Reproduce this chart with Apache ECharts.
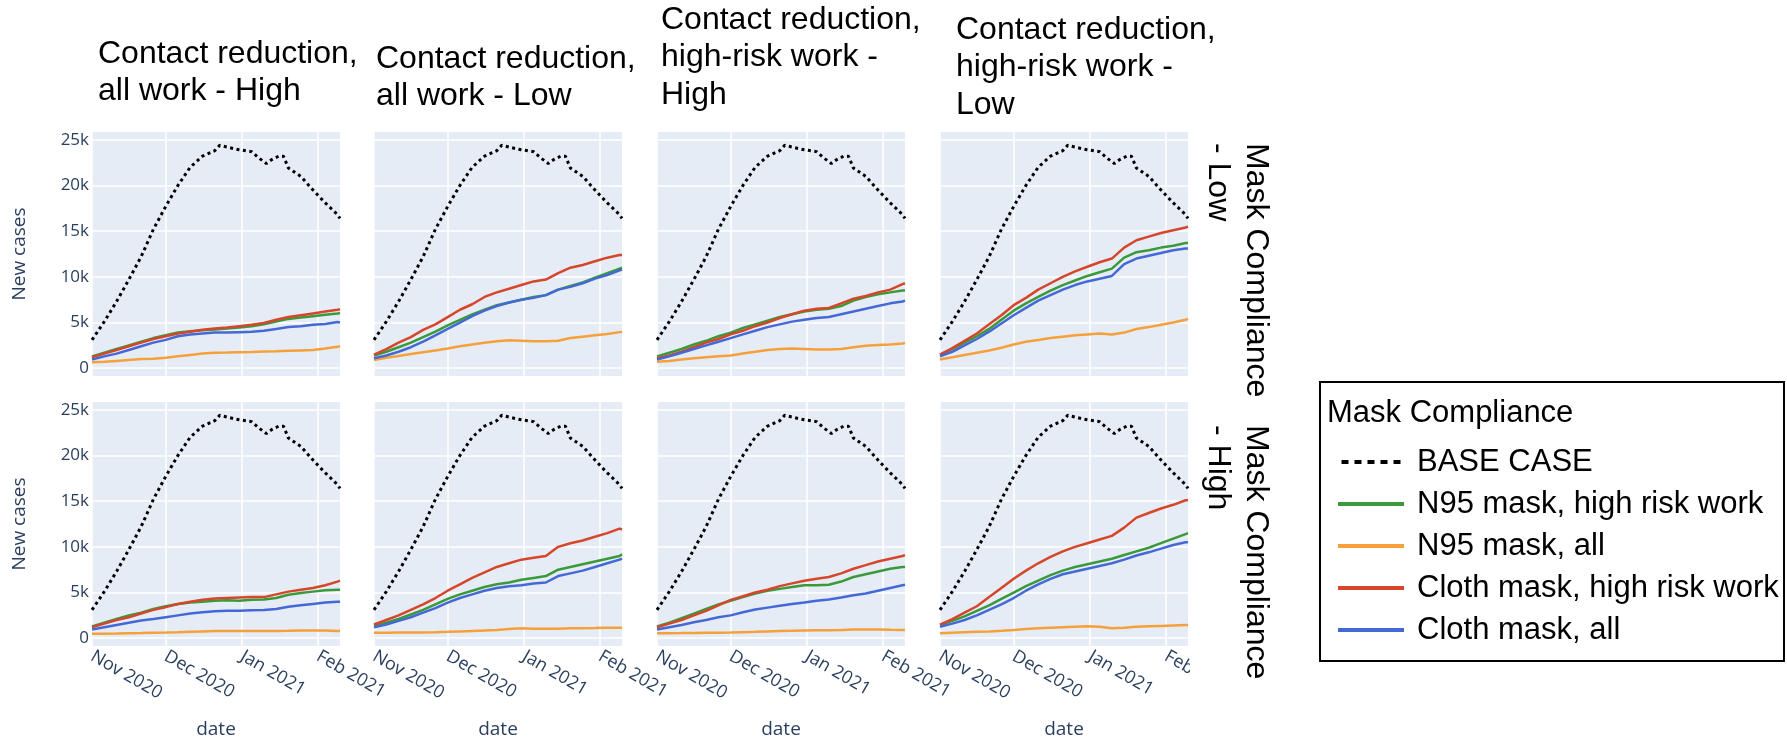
<!DOCTYPE html>
<html><head><meta charset="utf-8">
<script src="https://cdn.jsdelivr.net/npm/echarts@6/dist/echarts.min.js"></script>
<style>html,body{margin:0;padding:0;background:#fff}#c{width:1787px;height:746px}</style>
</head><body><div id="c"></div>
<script>
// ---------- DATA ----------
const dates = ['2020-11-01','2020-11-06','2020-11-11','2020-11-16','2020-11-21','2020-11-26','2020-12-01','2020-12-06','2020-12-11','2020-12-16','2020-12-21','2020-12-26','2020-12-31','2021-01-05','2021-01-10','2021-01-15','2021-01-20','2021-01-25','2021-01-30','2021-02-04','2021-02-09','2021-02-10'];
const baseDates = ['2020-11-01','2020-11-06','2020-11-11','2020-11-16','2020-11-21','2020-11-26','2020-12-01','2020-12-06','2020-12-11','2020-12-16','2020-12-21','2020-12-23','2020-12-26','2020-12-31','2021-01-05','2021-01-08','2021-01-11','2021-01-13','2021-01-16','2021-01-18','2021-01-20','2021-01-25','2021-01-30','2021-02-04','2021-02-09','2021-02-10'];
const baseCase = [3100,5100,7300,9700,12200,15200,17700,20000,22000,23200,23800,24400,24200,23900,23700,23000,22400,22800,23200,23200,21900,21000,19500,18100,16800,16400];

const colTitles = ['Contact reduction,\nall work - High','Contact reduction,\nall work - Low','Contact reduction,\nhigh-risk work -\nHigh','Contact reduction,\nhigh-risk work -\nLow'];
const rowTitles = ['Mask Compliance\n- Low','Mask Compliance\n- High'];
const seriesNames = ['BASE CASE','N95 mask, high risk work','N95 mask, all','Cloth mask, high risk work','Cloth mask, all'];
const yTicks = [0,5000,10000,15000,20000,25000];
const xTicks = ['2020-11-01','2020-12-01','2021-01-01','2021-02-01'];
const xRange = ['2020-11-01','2021-02-10'];
const monthNames = ['Jan','Feb','Mar','Apr','May','Jun','Jul','Aug','Sep','Oct','Nov','Dec'];
const yTitle = 'New cases';
const xTitle = 'date';
const legendTitle = 'Mask Compliance';

// Row 1 (Mask Compliance - Low)
const p11_n95Work   = [1300,1700,2100,2500,2900,3300,3600,3900,4050,4150,4250,4350,4450,4600,4800,5100,5400,5550,5700,5850,6000,6050];
const p11_n95All    = [650,700,800,900,1000,1050,1150,1300,1450,1600,1700,1720,1750,1780,1820,1850,1900,1950,2000,2150,2350,2400];
const p11_clothWork = [1200,1600,2000,2400,2800,3200,3500,3800,4000,4200,4350,4450,4600,4750,4950,5300,5600,5800,6000,6200,6400,6450];
const p11_clothAll  = [950,1300,1600,2000,2400,2800,3100,3500,3700,3800,3900,3900,3950,4000,4100,4300,4500,4600,4750,4850,5050,5000];

const p12_n95Work   = [1400,1800,2300,2800,3400,4000,4700,5300,5900,6400,6900,7200,7500,7800,8000,8600,9000,9400,9900,10400,10900,11000];
const p12_n95All    = [900,1150,1350,1550,1750,1950,2150,2400,2600,2800,2950,3050,3000,2950,2950,3000,3300,3450,3600,3750,3950,4000];
const p12_clothWork = [1500,2100,2800,3400,4200,4800,5600,6400,7000,7800,8300,8700,9100,9500,9700,10400,11000,11300,11700,12100,12400,12400];
const p12_clothAll  = [1100,1400,1800,2300,2900,3600,4300,5000,5700,6300,6800,7200,7500,7700,8000,8600,8900,9300,9800,10200,10700,10800];

const p13_n95Work   = [1300,1700,2100,2600,3000,3500,3900,4400,4800,5200,5600,5900,6200,6400,6500,6800,7400,7800,8100,8300,8500,8500];
const p13_n95All    = [700,800,950,1100,1200,1300,1400,1600,1800,2000,2100,2150,2100,2050,2050,2100,2300,2450,2550,2600,2700,2750];
const p13_clothWork = [1100,1400,1800,2300,2800,3200,3700,4100,4600,5000,5500,5900,6300,6500,6600,7100,7600,7900,8300,8600,9200,9300];
const p13_clothAll  = [950,1300,1700,2100,2500,2900,3300,3700,4100,4500,4800,5100,5300,5500,5600,5900,6200,6500,6800,7100,7300,7400];

const p14_n95Work   = [1500,2100,2800,3500,4300,5300,6300,7100,7800,8500,9100,9600,10100,10500,10900,12100,12700,12900,13200,13400,13700,13700];
const p14_n95All    = [950,1200,1450,1700,1950,2250,2600,2900,3100,3300,3450,3600,3700,3800,3700,3900,4300,4500,4750,5000,5300,5400];
const p14_clothWork = [1500,2200,3000,3800,4800,5800,6900,7700,8600,9300,10000,10600,11100,11600,12000,13200,14000,14400,14800,15100,15400,15500];
const p14_clothAll  = [1300,1800,2500,3200,4000,4900,5800,6600,7400,8000,8600,9100,9500,9800,10100,11400,12000,12300,12600,12900,13100,13100];

// Row 2 (Mask Compliance - High)
const p21_n95Work   = [1300,1700,2100,2500,2800,3200,3500,3750,3900,4000,4100,4150,4100,4200,4250,4400,4750,4950,5100,5250,5300,5300];
const p21_n95All    = [500,500,520,550,570,600,620,650,700,750,800,800,780,800,800,800,820,850,850,850,800,800];
const p21_clothWork = [1200,1600,2000,2300,2700,3100,3400,3750,4000,4200,4350,4400,4450,4500,4500,4800,5100,5300,5500,5800,6200,6300];
const p21_clothAll  = [950,1200,1450,1700,1950,2100,2300,2500,2700,2850,2950,3000,3000,3050,3100,3200,3450,3600,3750,3900,4000,4000];

const p22_n95Work   = [1350,1700,2100,2600,3100,3700,4300,4800,5200,5600,5900,6100,6400,6600,6800,7500,7800,8100,8400,8700,9000,9200];
const p22_n95All    = [600,600,620,620,640,660,700,750,800,850,900,1000,1100,1050,1050,1050,1100,1100,1120,1150,1150,1150];
const p22_clothWork = [1500,2000,2500,3100,3700,4400,5200,5900,6600,7200,7800,8200,8600,8800,9000,10000,10400,10700,11100,11500,12000,11900];
const p22_clothAll  = [1200,1500,1900,2300,2800,3300,3900,4400,4800,5200,5500,5700,5800,6000,6100,6800,7100,7400,7800,8200,8600,8700];

const p23_n95Work   = [1300,1700,2200,2700,3200,3700,4100,4500,4900,5200,5400,5600,5800,5800,5850,6200,6700,7000,7300,7600,7800,7800];
const p23_n95All    = [550,550,560,580,600,600,620,660,700,750,800,820,840,860,880,900,950,950,950,920,900,900];
const p23_clothWork = [1200,1600,2000,2500,3000,3600,4200,4600,5000,5300,5700,6000,6300,6500,6700,7100,7600,8000,8400,8700,9000,9100];
const p23_clothAll  = [950,1200,1450,1750,2000,2300,2500,2850,3150,3350,3550,3750,3900,4100,4250,4450,4700,4900,5200,5500,5800,5850];

const p24_n95Work   = [1450,1900,2400,3000,3600,4300,5000,5700,6300,6900,7400,7800,8100,8400,8700,9100,9500,9900,10400,10900,11400,11500];
const p24_n95All    = [550,600,650,700,750,820,900,1000,1100,1150,1200,1250,1300,1250,1100,1150,1250,1300,1350,1400,1450,1450];
const p24_clothWork = [1500,2100,2800,3500,4500,5500,6500,7400,8200,8900,9500,10000,10400,10800,11200,12100,13200,13700,14200,14600,15100,15100];
const p24_clothAll  = [1250,1600,2000,2500,3100,3700,4400,5200,5900,6500,7000,7300,7600,7900,8200,8600,9050,9400,9800,10200,10500,10500];

const panels = [
  [p11_n95Work,p11_n95All,p11_clothWork,p11_clothAll],
  [p12_n95Work,p12_n95All,p12_clothWork,p12_clothAll],
  [p13_n95Work,p13_n95All,p13_clothWork,p13_clothAll],
  [p14_n95Work,p14_n95All,p14_clothWork,p14_clothAll],
  [p21_n95Work,p21_n95All,p21_clothWork,p21_clothAll],
  [p22_n95Work,p22_n95All,p22_clothWork,p22_clothAll],
  [p23_n95Work,p23_n95All,p23_clothWork,p23_clothAll],
  [p24_n95Work,p24_n95All,p24_clothWork,p24_clothAll]
];

// ---------- LAYOUT / STYLE ----------
const ts = s => new Date(s + 'T00:00:00').getTime();
const colLeft = [92, 374, 657, 940];
const rowTop = [132, 402];
const gW = 248, gH = 244;
const colors = ['#3a9a3a', '#f6a03a', '#d5462b', '#4468d6'];
const axisColor = '#2a3f5f';
const tickFont = 'Open Sans';
const textFont = 'Liberation Sans';

const grid = [], xAxis = [], yAxis = [], series = [];
for (let r = 0; r < 2; r++) {
  for (let c = 0; c < 4; c++) {
    const i = r * 4 + c;
    grid.push({left: colLeft[c], top: rowTop[r], width: gW, height: gH, show: true,
      backgroundColor: '#e5ecf6', borderWidth: 0});
    xAxis.push({type: 'value', gridIndex: i, min: ts(xRange[0]), max: ts(xRange[1]),
      axisLine: {show: false}, axisTick: {show: false, customValues: xTicks.map(ts)},
      splitLine: {show: true, lineStyle: {color: '#ffffff', width: 1.5}},
      axisLabel: {show: r === 1, customValues: xTicks.map(ts), rotate: -30, margin: 9,
        color: axisColor, fontSize: 18, fontFamily: tickFont,
        formatter: v => { const d = new Date(v); return monthNames[d.getMonth()] + ' ' + d.getFullYear(); }}
    });
    yAxis.push({type: 'value', gridIndex: i, min: -850, max: 25850,
      axisLine: {show: false}, axisTick: {show: false, customValues: yTicks},
      splitLine: {show: true, lineStyle: {color: '#ffffff', width: 1.5}},
      axisLabel: {show: c === 0, customValues: yTicks, margin: 3, color: axisColor, fontSize: 17, fontFamily: tickFont,
        formatter: v => v === 0 ? '0' : (v / 1000) + 'k'}
    });
    series.push({name: seriesNames[0], type: 'line', xAxisIndex: i, yAxisIndex: i,
      data: baseDates.map((d, k) => [ts(d), baseCase[k]]), symbol: 'none', z: 5,
      lineStyle: {color: '#000', width: 3, type: [3, 3.5]}, itemStyle: {color: '#000'}});
    panels[i].forEach((arr, s) => {
      series.push({name: seriesNames[s + 1], type: 'line', xAxisIndex: i, yAxisIndex: i,
        data: dates.map((d, k) => [ts(d), arr[k]]), symbol: 'none', z: 3,
        lineStyle: {color: colors[s], width: 2.5}, itemStyle: {color: colors[s]}});
    });
  }
}

const graphic = [];
const titleTops = [35, 40, 1, 11];
const titleLefts = [98, 376, 661, 956];
colTitles.forEach((t, c) => graphic.push({type: 'text', left: titleLefts[c], top: titleTops[c],
  style: {text: t, fontSize: 32, fontFamily: textFont, fill: '#000', lineHeight: 37.5}}));
for (let r = 0; r < 2; r++) {
  graphic.push({type: 'text', x: 20, y: rowTop[r] + gH / 2, rotation: Math.PI / 2,
    style: {text: yTitle, fontSize: 19, fontFamily: tickFont, fill: axisColor, align: 'center', verticalAlign: 'middle'}});
}
for (let c = 0; c < 4; c++) {
  graphic.push({type: 'text', x: colLeft[c] + gW / 2, y: 730,
    style: {text: xTitle, fontSize: 19, fontFamily: tickFont, fill: axisColor, align: 'center', verticalAlign: 'middle'}});
}
graphic.push({type: 'rect', shape: {x: 1190, y: 650, width: 110, height: 70}, style: {fill: '#fff'}, z: 100});
const rowY = [143, 425];
rowTitles.forEach((t, r) => graphic.push({type: 'text', x: 1237, y: rowY[r], rotation: -Math.PI / 2, z: 101,
  style: {text: t, fontSize: 32, fontFamily: textFont, fill: '#000', lineHeight: 38, align: 'left', verticalAlign: 'middle'}}));
graphic.push({type: 'rect', shape: {x: 1320, y: 382, width: 464, height: 279}, style: {fill: 'none', stroke: '#000', lineWidth: 2}, z: 100});
graphic.push({type: 'text', x: 1327, y: 413, z: 101, style: {text: legendTitle, fontSize: 31, fontFamily: textFont, fill: '#000', verticalAlign: 'middle'}});

const dotIcon = 'path://M0,0H7V4H0Z M13,0H20V4H13Z M26,0H33V4H26Z M39,0H46V4H39Z M52,0H59V4H52Z';
const chart = echarts.init(document.getElementById('c'), null, {renderer: 'canvas'});
chart.setOption({
  animation: false,
  backgroundColor: '#ffffff',
  grid, xAxis, yAxis, series, graphic,
  legend: {
    data: seriesNames.map((n, k) => ({name: n, icon: k === 0 ? dotIcon : 'rect'})),
    orient: 'vertical', left: 1333, top: 441, itemWidth: 66, itemHeight: 4, itemGap: 10,
    textStyle: {fontSize: 31, color: '#000', fontFamily: textFont, lineHeight: 32, padding: [0, 0, 0, 8]}}
});
</script></body></html>
